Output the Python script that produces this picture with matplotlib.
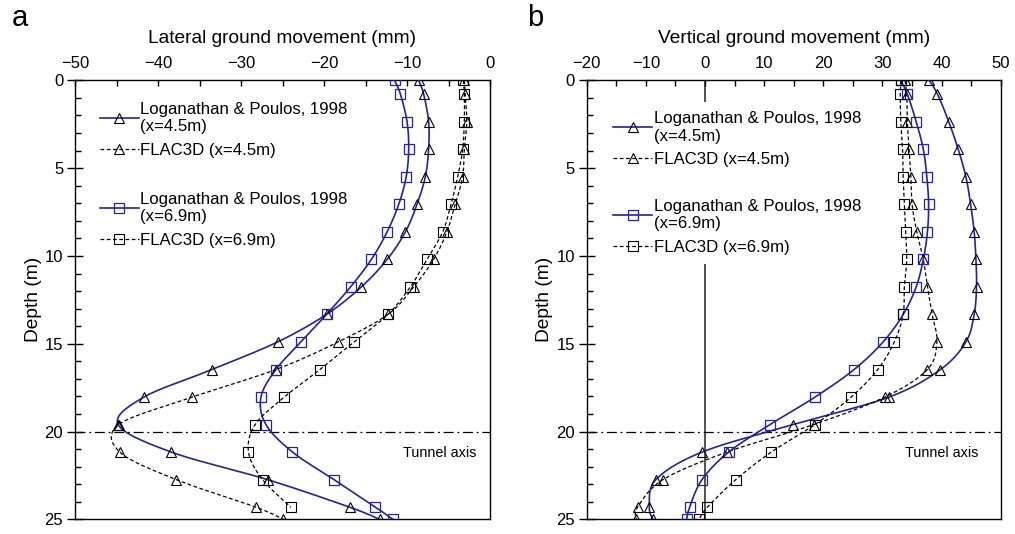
import matplotlib
matplotlib.use("Agg")
import matplotlib.pyplot as plt
import numpy as np
from matplotlib.lines import Line2D
from matplotlib.ticker import MultipleLocator

plt.rcParams['font.family'] = ['Liberation Sans', 'DejaVu Sans']

# depth of the observation points (m)
depth = [0, 0.78, 2.35, 3.92, 5.49, 7.06, 8.63, 10.2, 11.76, 13.33, 14.9,
         16.47, 18.04, 19.6, 21.17, 22.74, 24.31, 25.0]

# a: lateral ground movement (mm)
lat_lp45 = [-8.6, -8.0, -7.4, -7.4, -7.8, -8.8, -10.2, -12.4, -15.5, -19.7,
            -25.6, -33.5, -41.7, -44.8, -38.4, -26.8, -16.9, -13.3]
lat_fl45 = [-3.1, -3.0, -2.8, -3.1, -3.3, -4.2, -5.2, -6.8, -9.2, -12.3,
            -18.3, -25.8, -35.9, -44.7, -44.6, -37.8, -28.2, -24.9]
lat_lp69 = [-11.5, -10.8, -10.0, -9.8, -10.1, -11.0, -12.4, -14.3, -16.8, -19.7,
            -22.8, -25.8, -27.6, -27.0, -23.8, -18.8, -13.8, -11.7]
lat_fl69 = [-3.2, -3.1, -3.1, -3.3, -3.9, -4.7, -5.7, -7.6, -9.6, -12.3,
            -16.4, -20.5, -24.8, -28.3, -29.1, -27.4, -24.0]

# b: vertical ground movement (mm)
vert_lp45 = [37.9, 39.3, 41.2, 42.8, 44.1, 44.9, 45.5, 45.8, 45.9, 45.5,
             44.1, 39.8, 31.1, 14.9, -0.5, -8.3, -9.4, -8.8]
vert_fl45 = [33.8, 34.1, 34.2, 34.5, 34.8, 35.0, 35.8, 36.9, 37.6, 38.4,
             39.2, 37.6, 30.4, 18.4, 3.7, -7.1, -11.4, -11.6]
vert_lp69 = [33.1, 34.2, 35.7, 36.9, 37.5, 37.8, 37.6, 36.9, 35.7, 33.5,
             30.1, 25.2, 18.6, 11.0, 4.0, -0.5, -2.6, -3.1]
vert_fl69 = [33.1, 33.0, 33.1, 33.4, 33.5, 33.7, 33.9, 34.1, 33.7, 33.5,
             32.0, 29.2, 24.7, 18.6, 11.2, 5.2, 0.4, -1.0]

labels = ["Loganathan & Poulos, 1998\n(x=4.5m)", "FLAC3D (x=4.5m)",
          "Loganathan & Poulos, 1998\n(x=6.9m)", "FLAC3D (x=6.9m)"]

BLUE = "#23239a"
FS_TICK = 12
FS_LABEL = 13.8
FS_LEG = 12.1


def smooth(x, y, n=16):
    # Catmull-Rom curve through the points, like a smoothed spreadsheet line
    p = np.column_stack([x, y]).astype(float)
    p = np.vstack([p[0], p, p[-1]])
    t = np.linspace(0, 1, n, endpoint=False)[:, None]
    out = []
    for i in range(1, len(p) - 2):
        p0, p1, p2, p3 = p[i - 1], p[i], p[i + 1], p[i + 2]
        seg = 0.5 * ((2 * p1) + (-p0 + p2) * t + (2 * p0 - 5 * p1 + 4 * p2 - p3) * t ** 2
                     + (-p0 + 3 * p1 - 3 * p2 + p3) * t ** 3)
        out.append(seg)
    out.append(p[-2][None, :])
    out = np.vstack(out)
    return out[:, 0], out[:, 1]


def draw_series(ax, vals, style):
    d = depth[:len(vals)]
    sx, sy = smooth(vals, d)
    if style == "lp45":
        ax.plot(sx, sy, color=BLUE, lw=1.2, zorder=3)
        ax.plot(vals, d, ls="none", marker="^", ms=7, mfc="none", mec="black", mew=0.8, zorder=4)
    elif style == "fl45":
        ax.plot(sx, sy, color="black", lw=0.9, ls=(0, (3, 2)), zorder=3)
        ax.plot(vals, d, ls="none", marker="^", ms=7, mfc="none", mec="black", mew=0.8, zorder=4)
    elif style == "lp69":
        ax.plot(sx, sy, color=BLUE, lw=1.2, zorder=3)
        ax.plot(vals, d, ls="none", marker="s", ms=7, mfc="none", mec=BLUE, mew=0.9, zorder=4)
    else:
        ax.plot(sx, sy, color="black", lw=0.9, ls=(0, (3, 2)), zorder=3)
        ax.plot(vals, d, ls="none", marker="s", ms=7, mfc="none", mec="black", mew=0.8, zorder=4)


def legend_handles():
    blank = Line2D([], [], ls="none")
    return [
        Line2D([], [], color=BLUE, lw=1.2, marker="^", ms=7, mfc="none", mec="black", mew=0.8),
        Line2D([], [], color="black", lw=0.9, ls=(0, (3, 2)), marker="^", ms=7, mfc="none", mec="black", mew=0.8),
        blank,
        Line2D([], [], color=BLUE, lw=1.2, marker="s", ms=7, mfc="none", mec=BLUE, mew=0.9),
        Line2D([], [], color="black", lw=0.9, ls=(0, (3, 2)), marker="s", ms=7, mfc="none", mec="black", mew=0.8),
    ], [labels[0], labels[1], " ", labels[2], labels[3]]


def style_axes(ax, xlim, xlabel):
    ax.set_xlim(*xlim)
    ax.set_ylim(25, 0)
    ax.xaxis.set_ticks_position("top")
    ax.xaxis.set_label_position("top")
    ax.xaxis.set_major_locator(MultipleLocator(10))
    ax.xaxis.set_minor_locator(MultipleLocator(5))
    ax.yaxis.set_major_locator(MultipleLocator(5))
    ax.yaxis.set_minor_locator(MultipleLocator(1))
    ax.tick_params(axis="x", which="both", direction="in", length=4, width=1, labelsize=FS_TICK, pad=7)
    ax.tick_params(axis="y", which="major", direction="inout", length=11, width=1, labelsize=FS_TICK, pad=3)
    ax.tick_params(axis="y", which="minor", direction="in", length=4, width=1)
    ax.set_xlabel(xlabel, fontsize=FS_LABEL, labelpad=9)
    ax.set_ylabel("Depth (m)", fontsize=FS_LABEL, labelpad=2)
    for sp in ax.spines.values():
        sp.set_linewidth(1.0)
    ax.axhline(20, color="black", lw=0.9, ls=(0, (8, 3, 1.5, 3)), zorder=2)


fig = plt.figure(figsize=(10.15, 5.34), dpi=100)
ax1 = fig.add_axes([0.0739, 0.0275, 0.4089, 0.822])
ax2 = fig.add_axes([0.578, 0.0275, 0.408, 0.822])

for vals, st in [(lat_lp45, "lp45"), (lat_fl45, "fl45"), (lat_lp69, "lp69"), (lat_fl69, "fl69")]:
    draw_series(ax1, vals, st)
for vals, st in [(vert_lp45, "lp45"), (vert_fl45, "fl45"), (vert_lp69, "lp69"), (vert_fl69, "fl69")]:
    draw_series(ax2, vals, st)

style_axes(ax1, (-50, 0), "Lateral ground movement (mm)")
style_axes(ax2, (-20, 50), "Vertical ground movement (mm)")
ax2.axvline(0, color="#333333", lw=1.2, zorder=1)

h, l = legend_handles()
ax1.legend(h, l, loc="upper left", bbox_to_anchor=(0.02, 0.99), fontsize=FS_LEG,
           handlelength=2.3, handletextpad=0.1, labelspacing=0.55, borderpad=0.5,
           frameon=True, facecolor="white", edgecolor="none", framealpha=1, fancybox=False)
leg2 = ax2.legend(h, l, loc="upper left", bbox_to_anchor=(0.022, 0.97), fontsize=FS_LEG,
                  handlelength=2.3, handletextpad=0.1, labelspacing=0.5, borderpad=0.55,
                  frameon=True, facecolor="white", edgecolor="none", framealpha=1, fancybox=False)
leg2.set_zorder(5)

ax1.text(0.79, 21.25, "Tunnel axis", fontsize=10.4, transform=ax1.get_yaxis_transform(), va="center")
ax2.text(0.769, 21.25, "Tunnel axis", fontsize=10.4, transform=ax2.get_yaxis_transform(), va="center")

fig.text(0.012, 1 - 26 / 534, "a", fontsize=21, va="baseline")
fig.text(0.519, 1 - 26 / 534, "b", fontsize=21, va="baseline")

fig.savefig("out.png", dpi=100)
